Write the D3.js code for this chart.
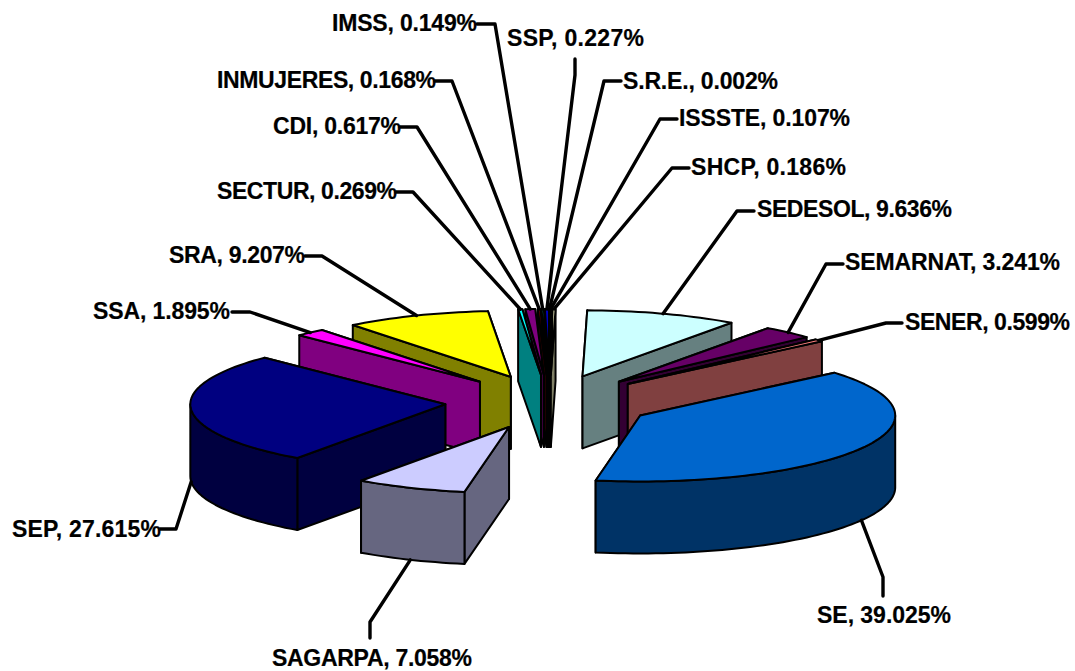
<!DOCTYPE html>
<html><head><meta charset="utf-8">
<script src="https://cdn.jsdelivr.net/npm/d3@7/dist/d3.min.js"></script>
<style>html,body{margin:0;padding:0;background:#fff}svg{display:block}</style>
</head><body><svg id="c" width="1075" height="671"></svg>
<script>
const names = ["S.R.E.","ISSSTE","SHCP","SEDESOL","SEMARNAT","SENER","SE","SAGARPA","SEP","SSA","SRA","SECTUR","CDI","INMUJERES","IMSS","SSP"];
const values = [0.002,0.107,0.186,9.636,3.241,0.599,39.025,7.058,27.615,1.895,9.207,0.269,0.617,0.168,0.149,0.227];
const colors = ["#9999FF","#993366","#FFFFCC","#CCFFFF","#660066","#FF8080","#0066CC","#CCCCFF","#000080","#FF00FF","#FFFF00","#00FFFF","#800080","#800000","#008080","#0000FF"];

// layout
const labelX = [623,679,691,757,845,905,817,272,12,93,169,217,273,217,332,507];
const labelY = [89,126,175,217,270,330,623,666,537,319,263,199,134,88,31,46];
const labelW = [155,171,155,195,215,165,134,200,149,137,136,180,128,219,145,137];
const elbowX = [604,660,672,737,826,886,883,370,176,250,322,413,417,452,495,575];
const elbowY = [81,119,168,211,264,323,577,622,529,312,256,192,127,81,24,75];
const endX   = [621,677,689,754,843,902,883,370,160,232,305,396,400,435,477,575];
const endY   = [81,119,168,211,264,323,596,638,529,312,256,192,127,81,24,59];

const cx=549.5, cy=402, rx=255, ry=66, depth=72, explode=0.41;

const pie = d3.pie().sort(null).value(d=>d)(values);
const slices = pie.map((p,i)=>{
  const mid=(p.startAngle+p.endAngle)/2;
  return {i,a0:p.startAngle,a1:p.endAngle,mid,
    ox:cx+Math.sin(mid)*explode*rx, oy:cy-Math.cos(mid)*explode*ry};
});
const rim=(s,a,dz=0)=>[s.ox+Math.sin(a)*rx, s.oy-Math.cos(a)*ry+dz];
const line=d3.line().curve(d3.curveLinear);
const side=c=>{const r=d3.rgb(c);return d3.rgb(r.r/2,r.g/2,r.b/2).formatHex();};
const sample=(a,b)=>{const n=Math.max(2,Math.ceil(Math.abs(b-a)/0.03));return d3.range(n+1).map(k=>a+(b-a)*k/n);};

const svg=d3.select("#c");
const gPie=svg.append("g").attr("stroke","#000").attr("stroke-width",2).attr("stroke-linejoin","round");

slices.slice().sort((a,b)=>a.oy-b.oy).forEach(s=>{
  const col=colors[s.i], dark=side(col), g=gPie.append("g");
  const wall=a=>{const e=rim(s,a);return [[s.ox,s.oy],e,[e[0],e[1]+depth],[s.ox,s.oy+depth]];};
  const walls=[wall(s.a0),wall(s.a1)].sort((p,q)=>d3.mean(p,d=>d[1])-d3.mean(q,d=>d[1]));
  walls.forEach(w=>g.append("path").attr("d",line(w)+"Z").attr("fill",dark));
  const lo=Math.max(s.a0,Math.PI/2), hi=Math.min(s.a1,Math.PI*1.5);
  if(hi>lo){
    const as=sample(lo,hi);
    const pts=as.map(a=>rim(s,a)).concat(as.slice().reverse().map(a=>rim(s,a,depth)));
    g.append("path").attr("d",line(pts)+"Z").attr("fill",dark);
  }
  const top=[[s.ox,s.oy]].concat(sample(s.a0,s.a1).map(a=>rim(s,a)));
  g.append("path").attr("d",line(top)+"Z").attr("fill",col);
});

const gLead=svg.append("g").attr("fill","none").attr("stroke","#000").attr("stroke-width",3.4).attr("stroke-linejoin","round").attr("stroke-linecap","round");
slices.forEach(s=>{
  const dz=(s.mid>Math.PI/2&&s.mid<Math.PI*1.5)?depth:0;
  gLead.append("path").attr("d",line([rim(s,s.mid,dz),[elbowX[s.i],elbowY[s.i]],[endX[s.i],endY[s.i]]]));
});

svg.append("g").selectAll("text").data(slices).join("text")
  .attr("x",s=>labelX[s.i]).attr("y",s=>labelY[s.i])
  .attr("textLength",s=>labelW[s.i]).attr("lengthAdjust","spacing")
  .attr("font-family","'Liberation Sans',Arial,sans-serif").attr("font-weight","bold").attr("font-size",23).attr("fill","#000")
  .attr("stroke","#000").attr("stroke-width",0.2)
  .text(s=>`${names[s.i]}, ${values[s.i].toFixed(3)}%`);
</script></body></html>
